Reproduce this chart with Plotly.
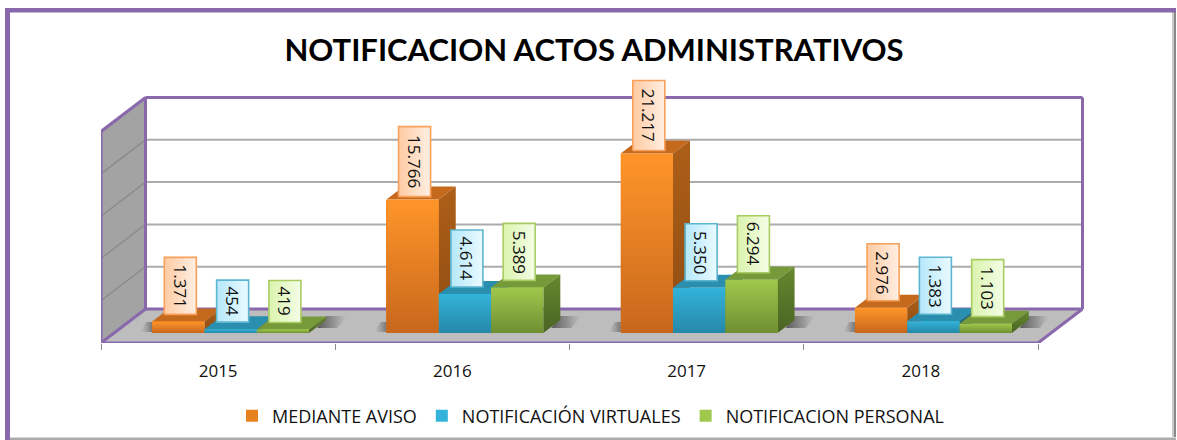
import plotly.graph_objects as go

years = ["2015", "2016", "2017", "2018"]
series_names = ["MEDIANTE AVISO", "NOTIFICACIÓN VIRTUALES", "NOTIFICACION PERSONAL"]
mediante_aviso = [1371, 15766, 21217, 2976]
notificacion_virtuales = [454, 4614, 5350, 1383]
notificacion_personal = [419, 5389, 6294, 1103]
gridline_values = [0, 5000, 10000, 15000, 20000, 25000]

all_series = [mediante_aviso, notificacion_virtuales, notificacion_personal]
front_top = ["#FF9529", "#33B3DA", "#A0C84C"]
front_bottom = ["#C7671C", "#2688A8", "#6F8F32"]
top_face = ["#C56A1C", "#2A8FAE", "#76993A"]
side_top = ["#AD5F18", "#20708B", "#66882F"]
side_bottom = ["#8F4C12", "#1A5C72", "#4A6423"]
label_edge = ["#F9A05A", "#5DB5D0", "#A9CC62"]
label_left = ["#FFCBA3", "#B5E8FA", "#DAF4AE"]
label_right = ["#FFEFE3", "#EAFAFF", "#F4FDE6"]
PURPLE = "#8968AC"

W, H = 1177, 440
PX_CAT = 234.25
PX_5000 = 42.3
UX = 1 / PX_CAT          # x data units per pixel
UY = 5000 / PX_5000      # y data units per pixel
LEFT, RIGHT, BOTTOM, TOP = 101, 1110, 343, 60
ZERO_ROW = 333

x_range = [0, (RIGHT - LEFT) * UX]
y_range = [-(BOTTOM - ZERO_ROW) * UY, (ZERO_ROW - TOP) * UY]
front_floor = y_range[0]
wall_dx = 44.5 * UX
wall_dy = 34 * UY
back_base = front_floor + wall_dy
n_cat = len(years)
bar_w = 52.3 * UX
group_shift = 12.5 * UX
bar_dx = 17 * UX
bar_dy = 13 * UY


def poly(xs, ys):
    return "M " + " L ".join(f"{a},{b}" for a, b in zip(xs, ys)) + " Z"


def page_rect(x0, y0, x1, y1, color):
    return dict(type="rect", xref="paper", yref="paper", x0=x0 / W, x1=x1 / W,
                y0=1 - y1 / H, y1=1 - y0 / H, line=dict(width=0), fillcolor=color, layer="below")


shapes = [
    # outer frame: purple top and left, soft grey right and bottom
    page_rect(1172, 12, 1174, 437, "#C9C9C9"),
    page_rect(1174, 12, 1176, 438, "#8A8A8A"),
    page_rect(10, 437, 1176, 438, "#D8D8D8"),
    page_rect(10, 438, 1176, 440, "#ABABAB"),
    page_rect(5, 8, 1176, 12.5, PURPLE),
    page_rect(5, 8, 10, 440, PURPLE),
]
top_val = gridline_values[-1]
# side wall
shapes.append(dict(type="path", layer="below", fillcolor="#A3A3A3", line=dict(width=0),
                   path=poly([0, wall_dx, wall_dx, 0],
                             [front_floor, back_base, back_base + top_val, front_floor + top_val])))
# floor
shapes.append(dict(type="path", layer="below", fillcolor="#BDBDBD", line=dict(width=0),
                   path=poly([0, n_cat, n_cat + wall_dx, wall_dx],
                             [front_floor, front_floor, back_base, back_base])))
# gridlines on both walls
for v in gridline_values[1:-1]:
    shapes.append(dict(type="line", layer="below", x0=wall_dx, x1=n_cat + wall_dx,
                       y0=back_base + v, y1=back_base + v, line=dict(color="#ABABAB", width=2)))
    shapes.append(dict(type="line", layer="below", x0=0, x1=wall_dx,
                       y0=front_floor + v, y1=back_base + v, line=dict(color="#8C8C8C", width=1.5)))
# purple frame of the plot box
frame_lines = [
    ([wall_dx, n_cat + wall_dx], [back_base + top_val, back_base + top_val]),
    ([wall_dx, n_cat + wall_dx], [back_base, back_base]),
    ([n_cat + wall_dx, n_cat + wall_dx], [back_base, back_base + top_val]),
    ([wall_dx, wall_dx], [back_base, back_base + top_val]),
    ([0, 0], [front_floor, front_floor + top_val]),
    ([0, wall_dx], [front_floor + top_val, back_base + top_val]),
    ([0, wall_dx], [front_floor, back_base]),
    ([0, n_cat], [front_floor, front_floor]),
    ([n_cat, n_cat + wall_dx], [front_floor, back_base]),
]
for xs, ys in frame_lines:
    shapes.append(dict(type="line", layer="below", x0=xs[0], x1=xs[1], y0=ys[0], y1=ys[1],
                       line=dict(color=PURPLE, width=3)))

fig = go.Figure()


def bar_left(cat, s):
    return cat + 0.5 + group_shift + (s - 1.5) * bar_w


# native bars (give the legend and the base marks)
for s, (name, vals) in enumerate(zip(series_names, all_series)):
    fig.add_trace(go.Bar(
        name=name, x=[bar_left(c, s) + bar_w / 2 for c in range(n_cat)], y=vals, width=bar_w,
        marker=dict(color=front_top[s] if s else "#E8821F", line=dict(width=0)),
    ))


def face(xs, ys, **kw):
    fig.add_trace(go.Scatter(x=xs + xs[:1], y=ys + ys[:1], mode="lines", fill="toself",
                             line=dict(width=0), showlegend=False, hoverinfo="skip", **kw))


# floor shadows
for c in range(n_cat):
    xl = bar_left(c, 0)
    xr = bar_left(c, 2) + bar_w
    face([xr + 8 * UX, xr + 28 * UX, xr + 38 * UX, xr + 17 * UX],
         [5 * UY, 5 * UY, 17 * UY, 17 * UY],
         fillgradient=dict(type="horizontal",
                           colorscale=[[0, "rgba(55,55,55,0.75)"], [0.55, "rgba(80,80,80,0.4)"],
                                       [1, "rgba(120,120,120,0)"]]))
    face([xl - 12 * UX, xl, xl, xl - 6 * UX], [1 * UY, 1 * UY, 11 * UY, 11 * UY],
         fillgradient=dict(type="horizontal",
                           colorscale=[[0, "rgba(120,120,120,0)"], [1, "rgba(70,70,70,0.6)"]]))

# 3-D faces, painted series by series
for c in range(n_cat):
    for s, vals in enumerate(all_series):
        v = vals[c]
        x0 = bar_left(c, s)
        x1 = x0 + bar_w
        face([x0, x1, x1 + bar_dx, x0 + bar_dx], [v, v, v + bar_dy, v + bar_dy], fillcolor=top_face[s])
        face([x1, x1 + bar_dx, x1 + bar_dx, x1], [0, bar_dy, v + bar_dy, v],
             fillgradient=dict(type="vertical", colorscale=[[0, side_bottom[s]], [1, side_top[s]]]))
        face([x0, x1, x1, x0], [0, 0, v, v],
             fillgradient=dict(type="vertical", colorscale=[[0, front_bottom[s]], [1, front_top[s]]]))


def label_text(v):
    return f"{v:,}".replace(",", ".")


label_height = {3: 42, 5: 57, 6: 70}
annotations = []
box_half = 16 * UX
for c in range(n_cat):
    for s, vals in enumerate(all_series):
        v = vals[c]
        txt = label_text(v)
        xc = bar_left(c, s) + bar_w / 2 + 2 * UX
        lift = 3 if v > 10000 else 7
        y0 = v + lift * UY
        y1 = y0 + label_height[len(txt)] * UY
        fig.add_trace(go.Scatter(
            x=[xc - box_half, xc + box_half, xc + box_half, xc - box_half, xc - box_half],
            y=[y0, y0, y1, y1, y0], mode="lines", fill="toself",
            line=dict(color=label_edge[s], width=1.6), showlegend=False, hoverinfo="skip",
            fillgradient=dict(type="horizontal", colorscale=[[0, label_left[s]], [1, label_right[s]]]),
        ))
        annotations.append(dict(x=xc, y=(y0 + y1) / 2, text=txt, showarrow=False, textangle=90,
                                font=dict(family="Open Sans", size=17, color="#111111")))

fig.update_layout(
    width=W, height=H, margin=dict(l=0, r=0, t=0, b=0),
    paper_bgcolor="white", plot_bgcolor="rgba(0,0,0,0)",
    barmode="overlay", bargap=0,
    shapes=shapes, annotations=annotations,
    title=dict(text="NOTIFICACION ACTOS ADMINISTRATIVOS", x=594 / W, xanchor="center",
               y=1 - 50 / H, yanchor="middle",
               font=dict(family="Lato", size=31, color="black", weight=700)),
    xaxis=dict(domain=[LEFT / W, RIGHT / W], range=x_range, showgrid=False, zeroline=False,
               showline=False, tickmode="array",
               tickvals=[c + 0.5 for c in range(n_cat)], ticktext=years,
               ticks="outside", ticklen=13, tickcolor="rgba(0,0,0,0)",
               tickfont=dict(family="Open Sans", size=17, color="#111111"),
               minor=dict(tickmode="array", tickvals=list(range(n_cat + 1)), ticks="outside",
                          ticklen=6, tickcolor="#8C8C8C", tickwidth=1, showgrid=False)),
    yaxis=dict(domain=[1 - BOTTOM / H, 1 - TOP / H], range=y_range, visible=False),
    legend=dict(orientation="h", x=232 / W, y=1 - 416 / H, xanchor="left", yanchor="middle",
                font=dict(family="Open Sans", size=18, color="#111111"),
                bgcolor="rgba(0,0,0,0)", traceorder="normal"),
    showlegend=True,
)

fig.write_html("out.html", config=dict(displayModeBar=False),
               post_script="document.body.style.margin='0';document.body.style.overflow='hidden';")
